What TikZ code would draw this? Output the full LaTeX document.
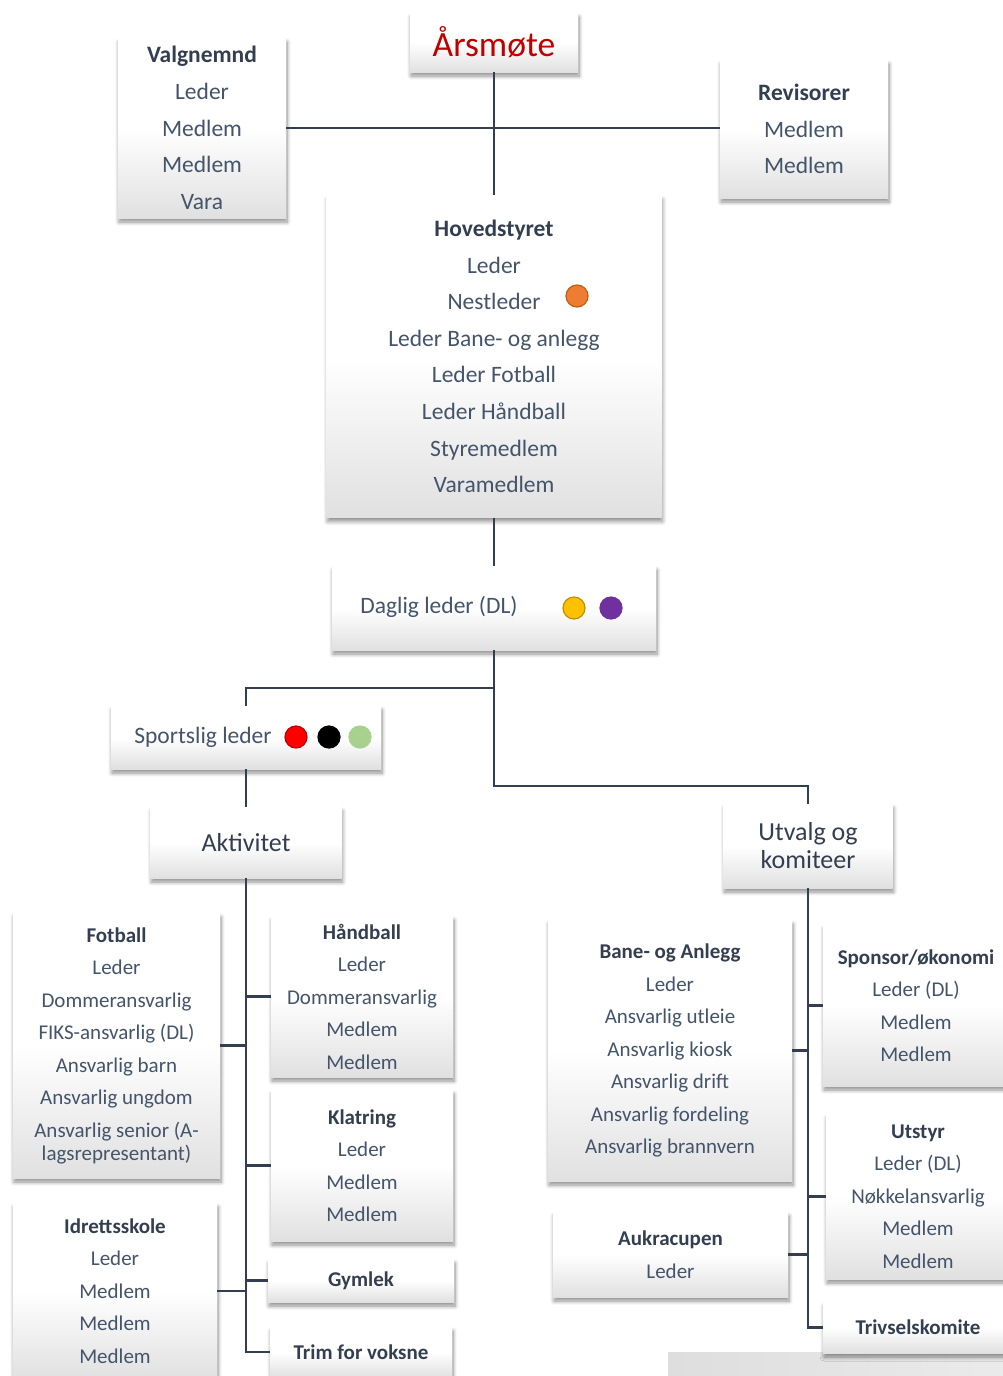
\documentclass[tikz,border=0pt]{standalone}
\usepackage{fontspec}
\setmainfont{Carlito}
\usetikzlibrary{shadows.blur}
\definecolor{txt}{HTML}{44546A}
\definecolor{ttl}{HTML}{333F50}
\definecolor{lnc}{HTML}{333F50}
\definecolor{aarred}{HTML}{C00000}
\newcommand\boxtitle[1]{{\color{ttl}\bfseries #1}}
\begin{document}
\begin{tikzpicture}[x=1pt,y=-1pt,
  box/.style={top color=white, bottom color=black!12, middle color=white, inner sep=0pt, align=center, text=txt,
    blur shadow={shadow xshift=1pt, shadow yshift=-4pt, shadow blur radius=4pt, shadow blur steps=8, shadow opacity=45}},
  sz/.style 2 args={minimum width=#1pt, minimum height=#2pt},
  big/.style={font=\fontsize{23.5}{36.6}\selectfont},
  small/.style={font=\fontsize{21}{32.5}\selectfont},
  line/.style={draw=lnc, line width=2.6pt},
  dot/.style={circle, inner sep=0pt, minimum size=22pt, line width=1.2pt}]
\useasboundingbox (0,0) rectangle (1003,1376);
\begin{scope}
\clip (0,0) rectangle (1003,1376);
\fill[left color=black!13, right color=black!8] (668,1352) rectangle (1003,1376);

\node[box, sz={168}{59}, font=\fontsize{35.5}{40}\selectfont, text=aarred] (aar) at (494,42.5){Årsmøte};
\node[box, big, sz={168}{180}] (valg) at (202,128){\boxtitle{Valgnemnd}\\Leder\\Medlem\\Medlem\\Vara};
\node[box, big, sz={168}{138}] (rev) at (804,129){\boxtitle{Revisorer}\\Medlem\\Medlem};
\node[box, big, sz={335}{322}] (hs) at (494,356.5){\boxtitle{Hovedstyret}\\Leder\\Nestleder\\Leder Bane- og anlegg\\Leder Fotball\\Leder Håndball\\Styremedlem\\Varamedlem};
\node[dot, fill={rgb,255:red,237;green,125;blue,49}, draw={rgb,255:red,197;green,90;blue,17}] (nl) at (577,296){};

\node[box, sz={324}{84}] (dl) at (494,608){};
\node[font=\fontsize{23.5}{26}\selectfont, text=txt] (dltxt) at (439,607){Daglig leder (DL)};
\node[dot, fill={rgb,255:red,255;green,192;blue,0}, draw={rgb,255:red,191;green,144;blue,0}] (dl1) at (574,608){};
\node[dot, fill={rgb,255:red,112;green,48;blue,160}, draw={rgb,255:red,112;green,48;blue,160}] (dl2) at (611,608){};

\node[box, sz={270}{63}] (sl) at (246,737.5){};
\node[font=\fontsize{23.5}{26}\selectfont, text=txt] (sltxt) at (203,737){Sportslig leder};
\node[dot, fill=red, draw={rgb,255:red,192;green,0;blue,0}] (sl1) at (296,737){};
\node[dot, fill=black, draw=black] (sl2) at (329,737){};
\node[dot, fill={rgb,255:red,169;green,209;blue,142}, draw={rgb,255:red,169;green,209;blue,142}] (sl3) at (360,737){};

\node[box, sz={191}{71}, font=\fontsize{26}{28}\selectfont, text=ttl] (akt) at (246,842.5){Aktivitet};
\node[box, sz={169}{84}, font=\fontsize{26}{28}\selectfont, text=ttl] (uk) at (808,846){Utvalg og\\komiteer};

\node[box, small, sz={207}{265}] (fot) at (116.5,1045.5){\boxtitle{Fotball}\\Leder\\Dommeransvarlig\\FIKS-ansvarlig (DL)\\Ansvarlig barn\\Ansvarlig ungdom\\Ansvarlig senior (A-\\[-9.5pt]lagsrepresentant)};
\node[box, small, sz={204}{176}] (idr) at (115,1291){\boxtitle{Idrettsskole}\\Leder\\Medlem\\Medlem\\Medlem};
\node[box, small, sz={182}{161}] (hand) at (362,996.5){\boxtitle{Håndball}\\Leder\\Dommeransvarlig\\Medlem\\Medlem};
\node[box, small, sz={182}{151}] (klat) at (362,1165.5){\boxtitle{Klatring}\\Leder\\Medlem\\Medlem};
\node[box, small, sz={186}{43}] (gym) at (361,1280.5){\boxtitle{Gymlek}};
\node[box, small, sz={182}{50}] (trim) at (361,1352){\boxtitle{Trim for voksne}};

\node[box, small, sz={244}{261}] (bane) at (670,1050.5){\boxtitle{Bane- og Anlegg}\\Leder\\Ansvarlig utleie\\Ansvarlig kiosk\\Ansvarlig drift\\Ansvarlig fordeling\\Ansvarlig brannvern};
\node[box, small, sz={235}{85}] (auk) at (670.5,1254.5){\boxtitle{Aukracupen}\\Leder};
\node[box, small, sz={186}{161}] (spons) at (916,1005.5){\boxtitle{Sponsor/økonomi}\\Leder (DL)\\Medlem\\Medlem};
\node[box, small, sz={184}{165}] (utst) at (918,1196.5){\boxtitle{Utstyr}\\Leder (DL)\\Nøkkelansvarlig\\Medlem\\Medlem};
\node[box, small, sz={190}{51}] (triv) at (918,1327.5){\boxtitle{Trivselskomite}};

\coordinate (j1) at (494,688);
\coordinate (j2) at (494,786);
\draw[line](aar) -- (hs);
\draw[line](valg.east) -- (valg.east -| rev.west);
\draw[line](hs) -- (dl);
\draw[line](dl) -- (j2) -| (uk);
\draw[line](j1) -| (sl);
\draw[line](sl) -- (akt);
\draw[line](akt) |- (trim);
\draw[line](fot.east) -- (fot.east -| akt);
\draw[line](idr.east) -- (idr.east -| akt);
\draw[line](hand.west) -- (hand.west -| akt);
\draw[line](klat.west) -- (klat.west -| akt);
\draw[line](gym.west) -- (gym.west -| akt);
\draw[line](uk) |- (triv);
\draw[line](bane.east) -- (bane.east -| uk);
\draw[line](auk.east) -- (auk.east -| uk);
\draw[line](spons.west) -- (spons.west -| uk);
\draw[line](utst.west) -- (utst.west -| uk);
\end{scope}
\end{tikzpicture}
\end{document}
